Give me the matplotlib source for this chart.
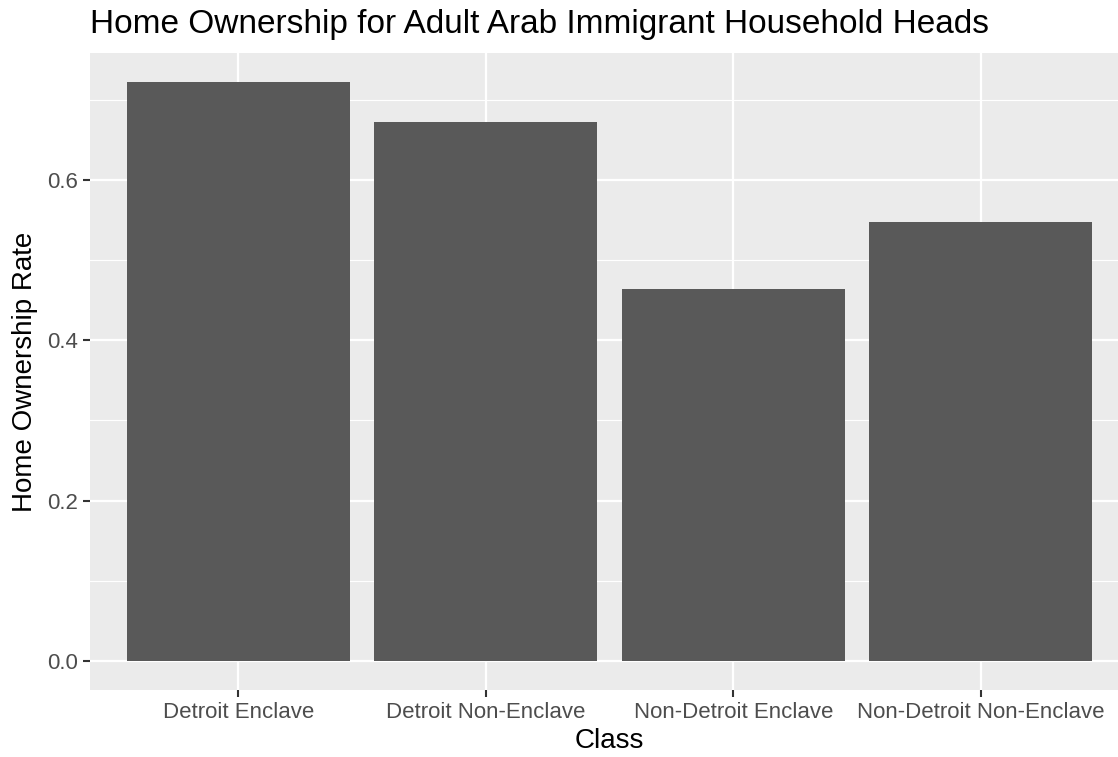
import numpy as np
import matplotlib.pyplot as plt

classes = ["Detroit Enclave", "Detroit Non-Enclave", "Non-Detroit Enclave", "Non-Detroit Non-Enclave"]
ownership_rate = [0.722, 0.672, 0.464, 0.547]

plt.rcParams['font.family'] = ['Liberation Sans', 'DejaVu Sans']

fig = plt.figure(figsize=(11.18, 7.57), dpi=100)
W, H = 1118, 757
# panel spans past the right edge, as in the cropped original
ax = fig.add_axes([90 / W, (H - 690) / H, 1039 / W, 637 / H])

x = np.arange(1, len(classes) + 1)
ax.set_facecolor('#EBEBEB')
ax.bar(x, ownership_rate, width=0.9, color='#595959', zorder=3)

top = max(ownership_rate)
ax.set_xlim(0.4, len(classes) + 0.6)
ax.set_ylim(-0.05 * top, top * 1.05)

ax.set_xticks(x)
ax.set_xticklabels(classes)
ax.set_yticks([0.0, 0.2, 0.4, 0.6])
ax.set_yticklabels(['0.0', '0.2', '0.4', '0.6'])
ax.set_yticks([0.1, 0.3, 0.5, 0.7], minor=True)

ax.grid(True, which='major', color='white', linewidth=1.6, zorder=1)
ax.grid(True, which='minor', axis='y', color='white', linewidth=0.8, zorder=1)
ax.set_axisbelow(True)
for s in ax.spines.values():
    s.set_visible(False)

ax.tick_params(axis='both', which='major', length=5, width=1.5, color='#333333',
               labelsize=16, labelcolor='#4D4D4D', pad=4)
ax.tick_params(axis='both', which='minor', length=0)

ax.set_xlabel('Class', fontsize=20, color='black', va='center')
ax.set_ylabel('Home Ownership Rate', fontsize=20, color='black', va='center')
ax.xaxis.set_label_coords(0.5 + (609 - 90 - 519.5) / 1039, (690 - 741) / 637)
ax.yaxis.set_label_coords((25 - 90) / 1039, (690 - 372) / 637)
fig.text(90 / W, 1 - 25 / H, 'Home Ownership for Adult Arab Immigrant Household Heads',
         fontsize=24, color='black', ha='left', va='center')

fig.savefig('out.png', dpi=100, facecolor='white')
